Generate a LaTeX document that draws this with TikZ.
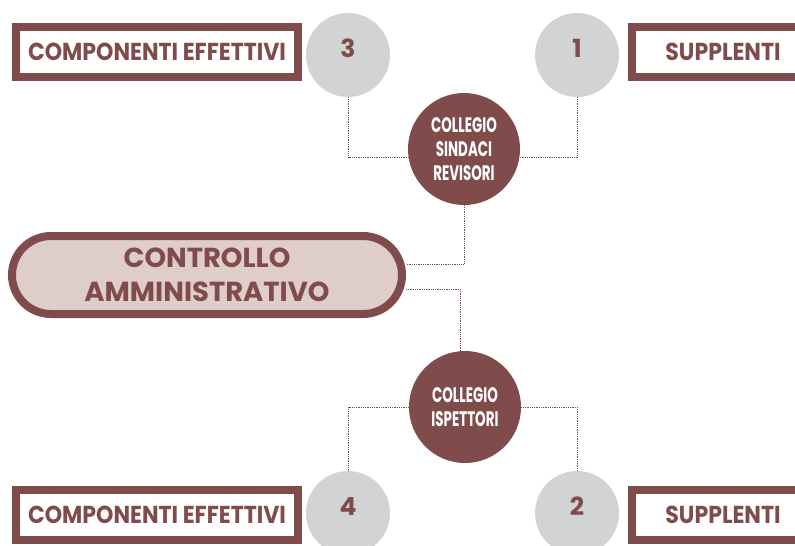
\documentclass[tikz,border=0pt]{standalone}
\usepackage{fontspec}
\setmainfont{Poppins}
\newfontfamily\boxfont[FakeStretch=0.9]{Poppins}
\newfontfamily\dotfont[FakeStretch=0.64]{Poppins}
\usetikzlibrary{shapes.misc,calc}
\definecolor{brick}{RGB}{127,76,75}
\definecolor{rosy}{RGB}{222,205,200}
\definecolor{pebble}{RGB}{209,211,212}
\tikzset{
	rolebox/.style={draw=brick, line width=8pt, fill=white, inner sep=0pt,
		minimum height=50pt, text=brick,
		font=\boxfont\bfseries\fontsize{24.5}{24.5}\selectfont},
	numdot/.style={circle, fill=pebble, minimum size=84pt, inner sep=0pt,
		text=brick, text height=18pt, text depth=14pt,
		font=\bfseries\fontsize{25}{25}\selectfont},
	organo/.style={circle, fill=brick, minimum size=112pt, inner sep=0pt,
		text=white, align=center,
		font=\dotfont\bfseries\fontsize{21}{24}\selectfont},
	link/.style={draw=brick, densely dotted, line width=.8pt}
}
\begin{document}
\begin{tikzpicture}[x=1pt,y=-1pt]
	\clip (0,0) rectangle (795,546);
	% centro
	\node[rounded rectangle, draw=brick, line width=8pt, fill=rosy,
		minimum width=390pt, minimum height=78pt, inner sep=0pt, text=brick,
		align=center, font=\bfseries\fontsize{27.5}{34}\selectfont]
		(pill) at (207,275) {CONTROLLO\\AMMINISTRATIVO};
	% collegio sindaci revisori
	\node[organo] (sindaci) at (464,149) {COLLEGIO\\SINDACI\\REVISORI};
	\node[numdot] (n3) at (348,55) {3};
	\node[numdot] (n1) at (577,55) {1};
	\node[rolebox, minimum width=282pt] (eff1) at (157,52) {COMPONENTI EFFETTIVI};
	\node[rolebox, minimum width=182pt] (sup1) at (723,52) {SUPPLENTI};
	% collegio ispettori
	\node[organo] (ispettori) at (465,407) {COLLEGIO\\ISPETTORI};
	\node[numdot] (n4) at (348,513) {4};
	\node[numdot] (n2) at (577,513) {2};
	\node[rolebox, minimum width=282pt] (eff2) at (157,515) {COMPONENTI EFFETTIVI};
	\node[rolebox, minimum width=182pt] (sup2) at (723,515) {SUPPLENTI};

	\draw[link] (n3.south) |- (sindaci.189);
	\draw[link] (n1.south) |- (sindaci.-9);
	\draw[link] (sindaci.south) |- ($(pill.east)+(0,-11)$);
	\draw[link] ($(pill.east)+(0,14)$) -| (ispettori.95);
	\draw[link] (ispettori.west) -| (n4.north);
	\draw[link] (ispettori.east) -| (n2.north);
\end{tikzpicture}
\end{document}
